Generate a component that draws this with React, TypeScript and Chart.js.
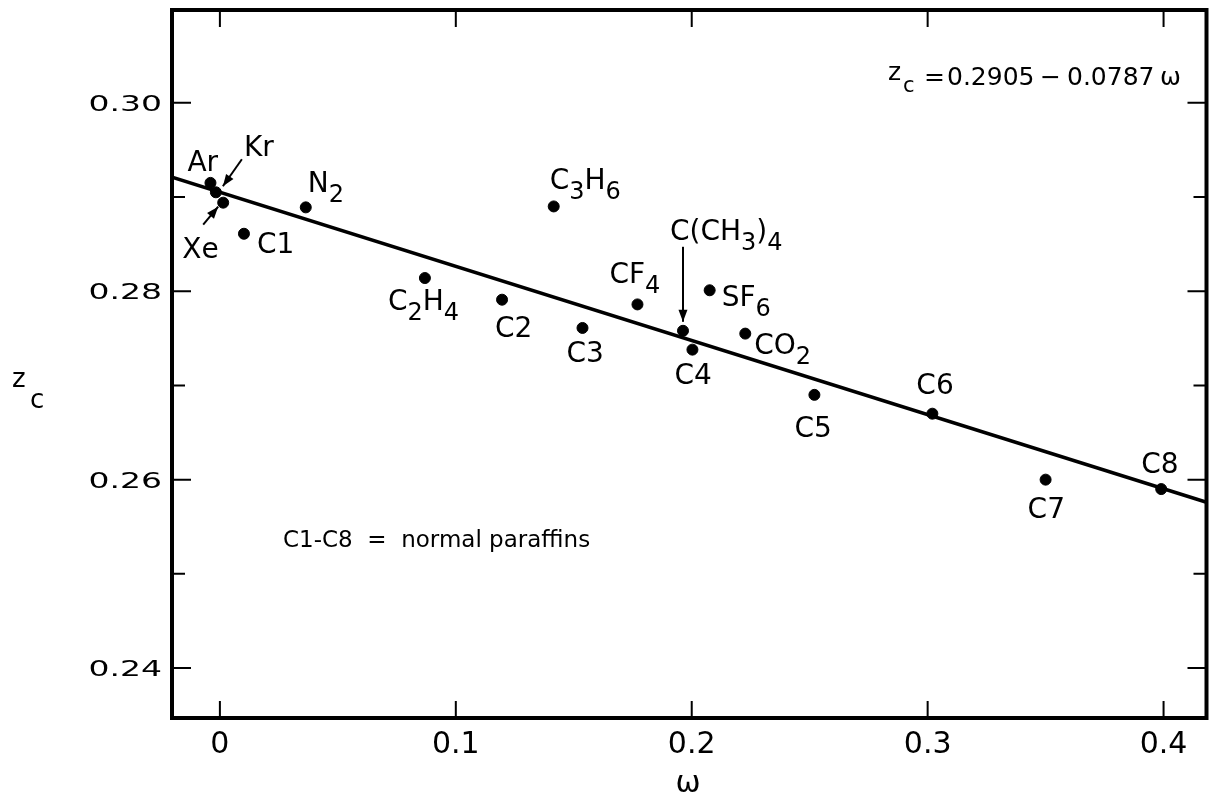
import { useEffect, useRef } from "react";
import { Chart, registerables } from "chart.js";

Chart.register(...registerables);

// ---- data ----
const species = ["Ar", "Kr", "Xe", "C1", "N_2", "C_2H_4", "C2", "C_3H_6", "C3", "CF_4", "C(CH_3)_4", "C4", "SF_6", "CO_2", "C5", "C6", "C7", "C8"];
const omega = [-0.004, -0.0017, 0.0014, 0.0102, 0.0364, 0.0869, 0.1196, 0.1415, 0.1537, 0.177, 0.1963, 0.2003, 0.2076, 0.2227, 0.252, 0.302, 0.35, 0.399];
const zc = [0.2915, 0.2905, 0.2894, 0.2861, 0.2889, 0.2814, 0.2791, 0.289, 0.2761, 0.2786, 0.2758, 0.2738, 0.2801, 0.2755, 0.269, 0.267, 0.26, 0.259];

// fitted line z_c = 0.2905 - 0.0787 ω, end points at the plot edges
const fitOmega = [-0.0203, 0.4182];
const fitZc = [0.2921, 0.2576];

const xTicks = [0, 0.1, 0.2, 0.3, 0.4];
const xTickLabels = ["0", "0.1", "0.2", "0.3", "0.4"];
const yTicks = [0.24, 0.25, 0.26, 0.27, 0.28, 0.29, 0.3];
const yTickLabels = ["0.24", "", "0.26", "", "0.28", "", "0.30"];

// label layout (pixel offsets of text from its point: left, baseline)
const labelOffsets: [number, number][] = [
  [-23, -12], [28, -36], [-41, 55], [13, 19], [2, -15], [-37, 32], [-7, 37], [-4, -17], [-16, 34],
  [-28, -21], [-13, -91], [-18, 34], [12, 16], [9, 20], [-20, 42], [-16, -20], [-18, 38], [-20, -16],
];
// arrows: [index, fromDx, fromDy, toDx, toDy]
const arrows: [number, number, number, number, number][] = [
  [1, 26, -33, 7, -6],
  [2, -20, 22, -5, 4],
  [10, 0, -84, 0, -9],
];

const FONT = '"DejaVu Sans", sans-serif';

function drawRich(ctx: CanvasRenderingContext2D, text: string, x: number, y: number, size: number, subSize: number, subDrop: number) {
  let cx = x;
  for (let i = 0; i < text.length; i++) {
    const ch = text[i];
    if (ch === "_") {
      const s = text[i + 1];
      ctx.font = `${subSize}px ${FONT}`;
      ctx.fillText(s, cx, y + subDrop);
      cx += ctx.measureText(s).width;
      i++;
    } else {
      ctx.font = `${size}px ${FONT}`;
      ctx.fillText(ch, cx, y);
      cx += ctx.measureText(ch).width;
    }
  }
}

function arrow(ctx: CanvasRenderingContext2D, x1: number, y1: number, x2: number, y2: number) {
  ctx.beginPath();
  ctx.moveTo(x1, y1);
  ctx.lineTo(x2, y2);
  ctx.stroke();
  const ang = Math.atan2(y2 - y1, x2 - x1);
  const L = 12, W = 4.5;
  ctx.beginPath();
  ctx.moveTo(x2, y2);
  ctx.lineTo(x2 - L * Math.cos(ang) + W * Math.sin(ang), y2 - L * Math.sin(ang) - W * Math.cos(ang));
  ctx.lineTo(x2 - L * Math.cos(ang) - W * Math.sin(ang), y2 - L * Math.sin(ang) + W * Math.cos(ang));
  ctx.closePath();
  ctx.fill();
}

const decor = {
  id: "decor",
  afterDraw(chart: any) {
    const { ctx, chartArea: a, scales } = chart;
    const x = scales.x, y = scales.y;
    ctx.save();
    ctx.fillStyle = "#000";
    ctx.strokeStyle = "#000";
    // frame
    ctx.lineWidth = 4;
    ctx.strokeRect(a.left, a.top, a.right - a.left, a.bottom - a.top);
    // ticks
    ctx.lineWidth = 2;
    xTicks.forEach((v) => {
      const px = x.getPixelForValue(v);
      ctx.beginPath();
      ctx.moveTo(px, a.bottom); ctx.lineTo(px, a.bottom - 17);
      ctx.moveTo(px, a.top); ctx.lineTo(px, a.top + 17);
      ctx.stroke();
    });
    yTicks.forEach((v, i) => {
      const py = y.getPixelForValue(v);
      const len = yTickLabels[i] ? 19 : 13;
      ctx.beginPath();
      ctx.moveTo(a.left, py); ctx.lineTo(a.left + len, py);
      ctx.moveTo(a.right, py); ctx.lineTo(a.right - len, py);
      ctx.stroke();
    });
    // y tick labels (wide lettering)
    ctx.textBaseline = "alphabetic";
    ctx.font = `22px ${FONT}`;
    ctx.textAlign = "right";
    yTicks.forEach((v, i) => {
      if (!yTickLabels[i]) return;
      ctx.save();
      ctx.translate(a.left - 10, y.getPixelForValue(v) + 8);
      ctx.scale(1.5, 1);
      ctx.fillText(yTickLabels[i], 0, 0);
      ctx.restore();
    });
    // x tick labels
    ctx.textAlign = "center";
    ctx.font = `30px ${FONT}`;
    xTicks.forEach((v, i) => {
      ctx.fillText(xTickLabels[i], x.getPixelForValue(v), a.bottom + 35);
    });
    // axis titles
    ctx.font = `30px ${FONT}`;
    ctx.fillText("ω", 688, 792);
    ctx.textAlign = "left";
    ctx.font = `26px ${FONT}`;
    ctx.fillText("z", 12, 387);
    ctx.fillText("c", 30, 408);
    // equation
    ctx.font = `25px ${FONT}`;
    ctx.fillText("z", 888, 80);
    ctx.font = `21px ${FONT}`;
    ctx.fillText("c", 903, 92);
    ctx.font = `25px ${FONT}`;
    ctx.fillText("=", 924, 85);
    ctx.fillText("0.2905", 947, 85);
    ctx.fillText("−", 1040, 85);
    ctx.fillText("0.0787", 1067, 85);
    ctx.fillText("ω", 1160, 85);
    ctx.font = `23px ${FONT}`;
    ctx.fillText("C1-C8  =  normal paraffins", 283, 547);
    // point labels
    species.forEach((s, i) => {
      const px = x.getPixelForValue(omega[i]);
      const py = y.getPixelForValue(zc[i]);
      drawRich(ctx, s, px + labelOffsets[i][0], py + labelOffsets[i][1], 28, 24, 10);
    });
    ctx.lineWidth = 2;
    arrows.forEach(([i, fx, fy, tx, ty]) => {
      const px = x.getPixelForValue(omega[i]);
      const py = y.getPixelForValue(zc[i]);
      arrow(ctx, px + fx, py + fy, px + tx, py + ty);
    });
    ctx.restore();
  },
};

export default function App() {
  const ref = useRef<HTMLCanvasElement | null>(null);
  useEffect(() => {
    document.body.style.margin = "0";
    const chart = new Chart(ref.current!, {
      type: "scatter",
      data: {
        datasets: [
          {
            type: "line",
            data: fitOmega.map((v, i) => ({ x: v, y: fitZc[i] })),
            borderColor: "#000",
            borderWidth: 3.5,
            pointRadius: 0,
            fill: false,
          } as any,
          {
            type: "scatter",
            data: omega.map((v, i) => ({ x: v, y: zc[i] })),
            backgroundColor: "#000",
            borderColor: "#000",
            pointRadius: 5.5,
          },
        ],
      },
      options: {
        animation: false,
        responsive: false,
        events: [],
        layout: { padding: { left: 0, right: 6, top: 10, bottom: 0 } },
        plugins: { legend: { display: false }, tooltip: { enabled: false }, title: { display: false } },
        scales: {
          x: {
            type: "linear",
            min: -0.0203,
            max: 0.4182,
            grid: { display: false },
            border: { display: false },
            ticks: { display: false },
            afterFit: (s: any) => { s.height = 87; },
          },
          y: {
            type: "linear",
            min: 0.2347,
            max: 0.30985,
            grid: { display: false },
            border: { display: false },
            ticks: { display: false },
            afterFit: (s: any) => { s.width = 172; },
          },
        },
      },
      plugins: [decor],
    });
    return () => chart.destroy();
  }, []);
  return (
    <div style={{ position: "absolute", left: 0, top: 0, width: 1213, height: 805, background: "#fff" }}>
      <canvas ref={ref} width={1213} height={805} style={{ display: "block" }} />
    </div>
  );
}
